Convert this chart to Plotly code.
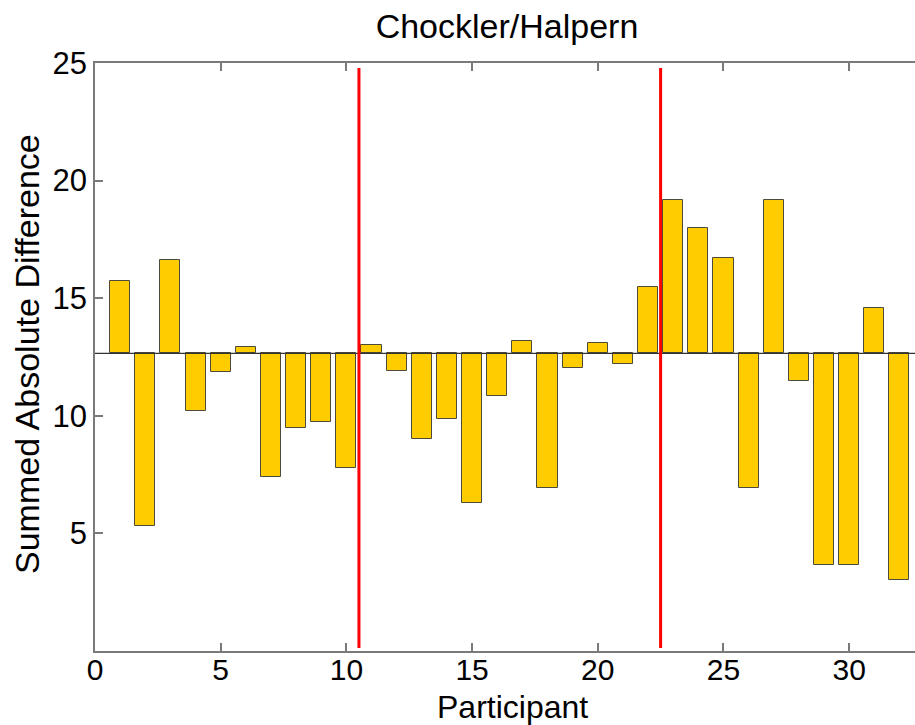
import plotly.graph_objects as go

participants = list(range(1, 33))
values = [15.75, 5.31, 16.62, 10.2, 11.86, 12.93, 7.4, 9.48, 9.74, 7.78,
          13.01, 11.92, 9.0, 9.85, 6.29, 10.84, 13.17, 6.93, 12.02, 13.11,
          12.19, 15.49, 19.18, 18.0, 16.71, 6.93, 19.18, 11.48, 3.64, 3.64,
          14.58, 3.0]
baseline = 12.65
group_boundaries = [10.5, 22.5]
x_ticks = [0, 5, 10, 15, 20, 25, 30]
y_ticks = [5, 10, 15, 20, 25]

title_text = "Chockler/Halpern"
x_label = "Participant"
y_label = "Summed Absolute Difference"

FONT = "Liberation Sans, Arial, sans-serif"
AXIS_COLOR = "#7a7a7a"

fig = go.Figure()
fig.add_trace(go.Bar(
    x=participants,
    y=[v - baseline for v in values],
    base=baseline,
    width=0.8,
    marker=dict(color="#FFCC00", line=dict(color="#4d4a3a", width=1)),
    showlegend=False,
    hoverinfo="skip",
))

# baseline
fig.add_shape(type="line", xref="paper", x0=0, x1=1, yref="y", y0=baseline, y1=baseline,
              line=dict(color="#333333", width=1.2), layer="above")
# group separators
for b in group_boundaries:
    fig.add_shape(type="line", xref="x", x0=b, x1=b, yref="y", y0=0.13, y1=24.79,
                  line=dict(color="#FF0000", width=3), layer="above")

fig.update_layout(
    width=915, height=725,
    margin=dict(l=95, r=0, t=63, b=74),
    paper_bgcolor="white", plot_bgcolor="white",
    font=dict(family=FONT, color="black"),
    bargap=0,
    title=dict(text=title_text, x=(507 - 95) / 820, xref="paper", xanchor="center",
               y=1 - 26 / 725, yref="container", yanchor="middle",
               font=dict(family=FONT, size=34, color="black")),
)
fig.update_xaxes(
    range=[0, 32.62], tickvals=x_ticks, ticktext=[str(t) for t in x_ticks],
    showgrid=False, zeroline=False, showline=True, linecolor=AXIS_COLOR, linewidth=1.5,
    mirror="ticks", ticks="inside", ticklen=8, tickcolor=AXIS_COLOR, tickwidth=1.5,
    ticklabelstandoff=-9,
    tickfont=dict(family=FONT, size=30, color="black"),
)
fig.update_yaxes(
    range=[0, 25], tickvals=y_ticks, ticktext=[str(t) for t in y_ticks],
    showgrid=False, zeroline=False, showline=True, linecolor=AXIS_COLOR, linewidth=1.5,
    mirror=False, ticks="inside", ticklen=8, tickcolor=AXIS_COLOR, tickwidth=1.5,
    tickfont=dict(family=FONT, size=31, color="black"),
)

fig.add_annotation(text=x_label, xref="paper", yref="paper",
                   x=(512 - 95) / 820, y=-(707 - 651) / 588,
                   xanchor="center", yanchor="middle", showarrow=False,
                   font=dict(family=FONT, size=32, color="black"))
fig.add_annotation(text=y_label, xref="paper", yref="paper",
                   x=(27 - 95) / 820, y=(651 - 354) / 588,
                   xanchor="center", yanchor="middle", showarrow=False, textangle=-90,
                   font=dict(family=FONT, size=34, color="black"))

fig.write_html("out.html")
